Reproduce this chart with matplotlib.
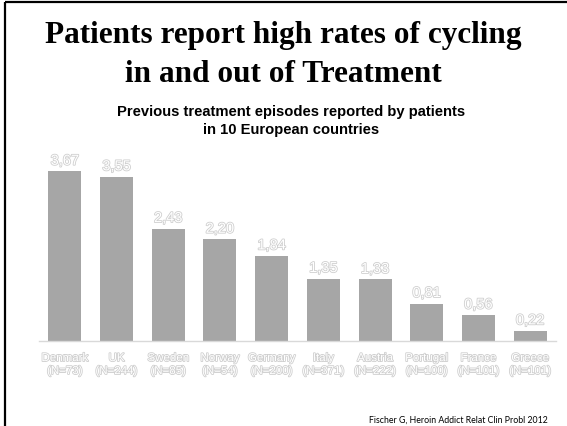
import matplotlib
matplotlib.use("Agg")
import matplotlib.pyplot as plt
import matplotlib.patheffects as pe
from matplotlib.lines import Line2D

countries = ["Denmark", "UK", "Sweden", "Norway", "Germany",
             "Italy", "Austria", "Portugal", "France", "Greece"]
sample_sizes = ["(N=73)", "(N=244)", "(N=85)", "(N=54)", "(N=200)",
                "(N=371)", "(N=222)", "(N=100)", "(N=101)", "(N=101)"]
episodes = [3.67, 3.55, 2.43, 2.20, 1.84, 1.35, 1.33, 0.81, 0.56, 0.22]

fig = plt.figure(figsize=(5.67, 4.27), dpi=100)
fig.patch.set_facecolor("white")

# slide frame: top and left rules
fig.add_artist(Line2D([5/567, 1.0], [1 - 3/427, 1 - 3/427], color="black", lw=1.6,
                      transform=fig.transFigure, solid_capstyle="butt"))
fig.add_artist(Line2D([5/567, 5/567], [0, 1 - 3/427], color="black", lw=1.6,
                      transform=fig.transFigure, solid_capstyle="butt"))

fig.text(0.5, 1 - 35/427, "Patients report high rates of cycling",
         ha="center", va="center", fontsize=22.5, fontweight="bold",
         family="Liberation Serif")
fig.text(0.5, 1 - 74/427, "in and out of Treatment",
         ha="center", va="center", fontsize=22.5, fontweight="bold",
         family="Liberation Serif")
fig.text(291/567, 1 - 121/427,
         "Previous treatment episodes reported by patients\nin 10 European countries",
         ha="center", va="center", fontsize=10.6, fontweight="bold",
         family="Liberation Sans", linespacing=1.38)
fig.text(548/567, 1 - 420/427, "Fischer G, Heroin Addict Relat Clin Probl 2012",
         ha="right", va="center", fontsize=6.3, family="Lato")

ax = fig.add_axes([39/567, 85/427, 517/567, 185/427])
x = list(range(len(episodes)))
ax.bar(x, episodes, width=0.64, color="#a6a6a6", edgecolor="none", zorder=2)
ax.set_xlim(-0.5, len(episodes) - 0.5)
ax.set_ylim(0, 4)
for s in ["top", "right", "left"]:
    ax.spines[s].set_visible(False)
ax.spines["bottom"].set_color("#d9d9d9")
ax.spines["bottom"].set_linewidth(1.0)
ax.set_yticks([])
ax.set_xticks([])

hollow = [pe.withStroke(linewidth=1.2, foreground="#cfcfcf")]
for xi, v in zip(x, episodes):
    ax.annotate(f"{v:.2f}".replace(".", ","), (xi, v), xytext=(0, 2.5),
                textcoords="offset points", ha="center", va="bottom",
                fontsize=10.5, color="white", path_effects=hollow,
                family="Liberation Sans")
for xi, c, n in zip(x, countries, sample_sizes):
    ax.annotate(f"{c}\n{n}", (xi, 0), xytext=(0, -8),
                textcoords="offset points", ha="center", va="top",
                fontsize=8.3, color="white", path_effects=hollow,
                family="Liberation Sans", linespacing=1.1)

fig.savefig("out.png", dpi=100, facecolor="white")
